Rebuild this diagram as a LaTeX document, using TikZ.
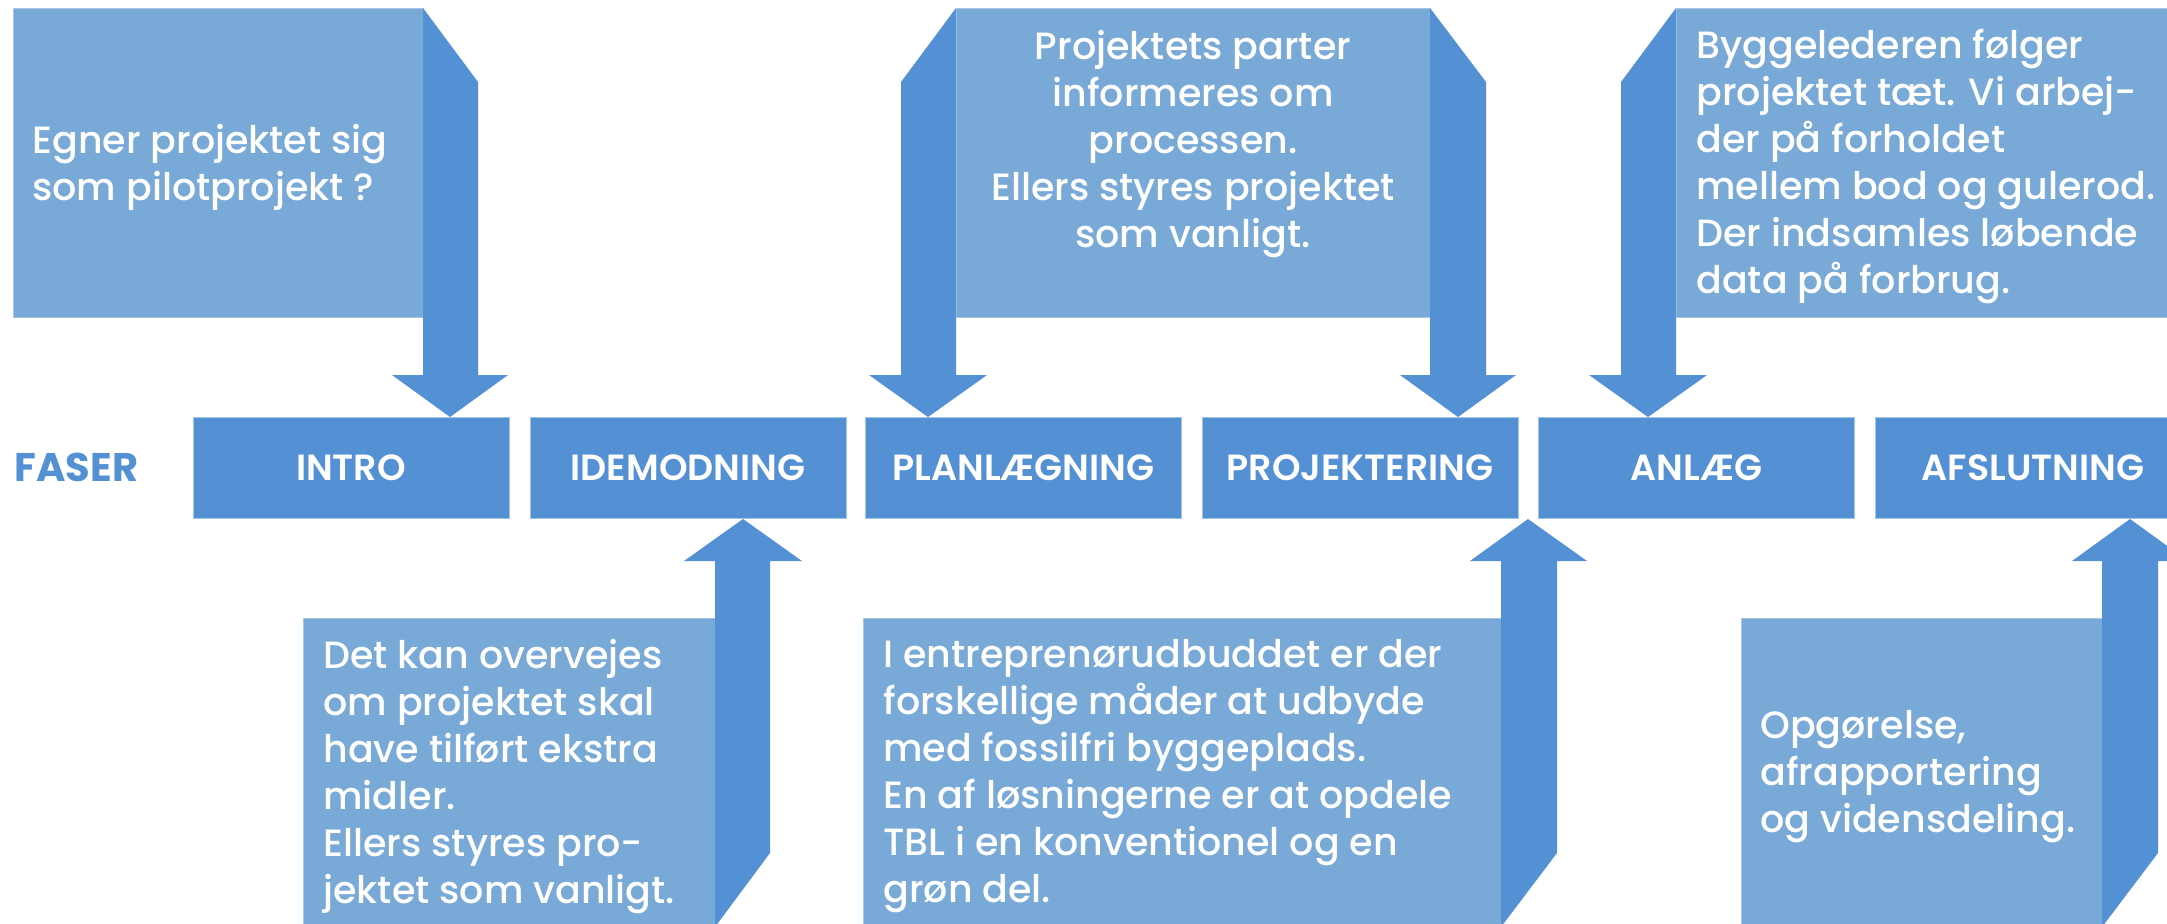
\documentclass[tikz,border=0pt]{standalone}
\usepackage{fontspec}
\setmainfont{Poppins}[UprightFont=* Medium, BoldFont=* SemiBold]
\newfontfamily\faserfont{Poppins}[UprightFont=* Bold]
\definecolor{dark}{RGB}{84,144,212}
\definecolor{light}{RGB}{120,169,215}
\definecolor{edge}{RGB}{165,196,230}
\begin{document}
\begin{tikzpicture}[x=0.5pt,y=-0.5pt,
  phase/.style={fill=dark, draw=edge, line width=0.4pt, minimum width=158pt, minimum height=50.5pt, inner sep=0pt, outer sep=0pt, text=white, font=\fontsize{18.2}{22}\selectfont\bfseries},
  lbox/.style={fill=light, draw=edge, line width=0.4pt},
  blk/.style={fill=dark},
  btext/.style={text=white, inner sep=0pt, font=\fontsize{19}{23.5}\selectfont, align=left},
  ctext/.style={btext, align=center}]
\useasboundingbox (0,0) rectangle (2167,923);
\clip (0,0) rectangle (2167,923);

% phase label
\node[anchor=west, text=dark, inner sep=0pt, font=\fontsize{20}{24}\faserfont] (faser) at (14,467.5) {FASER};

% phases
\node[phase] (intro) at (351,467.5) {INTRO};
\node[phase] (idem)  at (688,467.5) {IDEMODNING};
\node[phase] (plan)  at (1023.5,467.5) {PLANLÆGNING};
\node[phase] (proj)  at (1360,467.5) {PROJEKTERING};
\node[phase] (anl)   at (1696.5,467.5) {ANLÆG};
\node[phase] (afs)   at (2033,467.5) {AFSLUTNING};

% top boxes
\path[lbox] (13,8) rectangle (423,317);
\path[lbox] (956,8) rectangle (1430,317);
\path[lbox] (1676,8) rectangle (2200,317);
% bottom boxes
\path[lbox] (303,618) rectangle (715,940);
\path[lbox] (863,618) rectangle (1501,940);
\path[lbox] (1741,618) rectangle (2102,940);

% down arrows
\fill[blk] (423,8) -- (478,82) -- (478,375) -- (508,375) -- (450,417) -- (392,375) -- (423,375) -- cycle;
\fill[blk] (956,8) -- (901,82) -- (901,375) -- (869,375) -- (928,417) -- (987,375) -- (956,375) -- cycle;
\fill[blk] (1430,8) -- (1486,82) -- (1486,375) -- (1516,375) -- (1458,417) -- (1400,375) -- (1430,375) -- cycle;
\fill[blk] (1676,8) -- (1621,82) -- (1621,375) -- (1589,375) -- (1648,417) -- (1707,375) -- (1676,375) -- cycle;
% up arrows
\fill[blk] (715,927) -- (770,853) -- (770,561) -- (802,561) -- (743,519) -- (684,561) -- (715,561) -- cycle;
\fill[blk] (1501,927) -- (1557,853) -- (1557,561) -- (1587,561) -- (1528,519) -- (1470,561) -- (1501,561) -- cycle;
\fill[blk] (2102,927) -- (2158,853) -- (2158,561) -- (2188,561) -- (2130,519) -- (2072,561) -- (2102,561) -- cycle;

% texts (anchored at the baseline of the last line)
\node[btext, anchor=base west] (t1) at (32,200) {Egner projektet sig\\som pilotprojekt ?};
\node[ctext, anchor=base] (t2) at (1193,247) {Projektets parter\\informeres om\\processen.\\Ellers styres projektet\\som vanligt.};
\node[btext, anchor=base west] (t3) at (1696,293) {Byggelederen følger\\projektet tæt. Vi arbej-\\der på forholdet\\mellem bod og gulerod.\\Der indsamles løbende\\data på forbrug.};
\node[btext, anchor=base west] (t4) at (323,903) {Det kan overvejes\\om projektet skal\\have tilført ekstra\\midler.\\Ellers styres pro-\\jektet som vanligt.};
\node[btext, anchor=base west] (t5) at (883,902) {I entreprenørudbuddet er der\\forskellige måder at udbyde\\med fossilfri byggeplads.\\En af løsningerne er at opdele\\TBL i en konventionel og en\\grøn del.};
\node[btext, anchor=base west] (t6) at (1760,832) {Opgørelse,\\afrapportering\\og vidensdeling.};
\end{tikzpicture}
\end{document}
